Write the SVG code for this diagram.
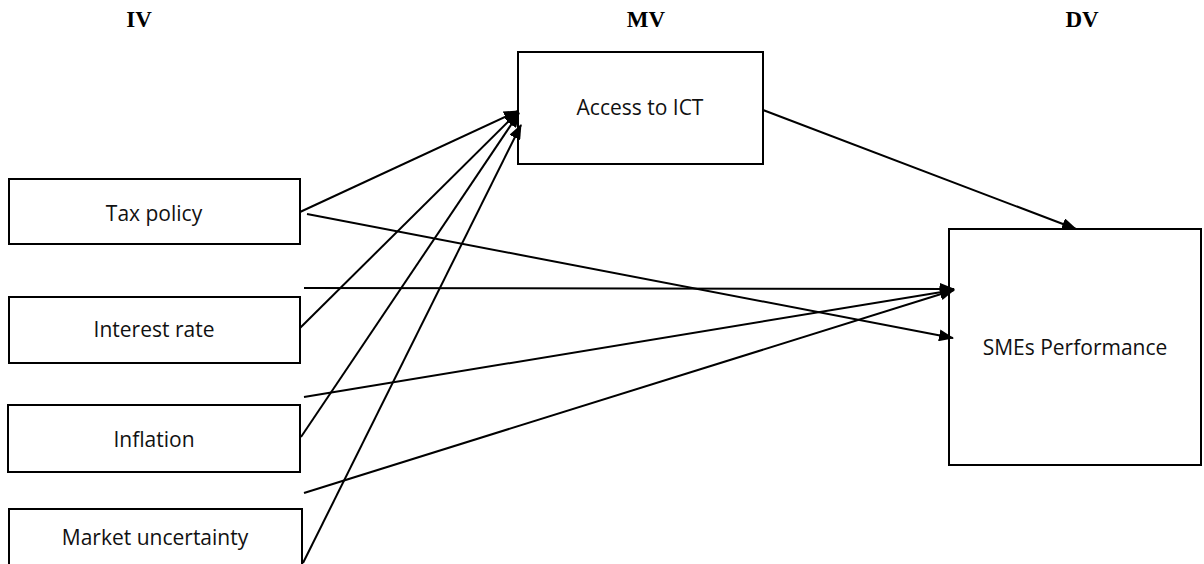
<svg xmlns="http://www.w3.org/2000/svg" width="1204" height="564" viewBox="0 0 1204 564">
<defs>
<style>
.box{fill:#fff;stroke:#000;stroke-width:2}
.lbl{font-family:"Open Sans","Liberation Sans",sans-serif;font-size:21px;fill:#111;text-anchor:middle}
.hdr{font-family:"Liberation Serif","Times New Roman",serif;font-size:23px;font-weight:bold;fill:#000;text-anchor:middle}
.ln{stroke:#000;stroke-width:2;fill:none;marker-end:url(#ah)}
.ln0{stroke:#000;stroke-width:2;fill:none}
</style>
<marker id="ah" markerUnits="userSpaceOnUse" markerWidth="15" markerHeight="12" viewBox="0 0 15 12" refX="14" refY="6" orient="auto">
<path d="M0,0 L15,6 L0,12 z" fill="#000"/>
</marker>
</defs>
<rect width="1204" height="564" fill="#fff"/>
<g id="headers">
<text class="hdr" x="139" y="27">IV</text>
<text class="hdr" x="646" y="27">MV</text>
<text class="hdr" x="1082" y="27">DV</text>
</g>
<g id="tax">
<rect class="box" x="9" y="179" width="291" height="65"/>
<text class="lbl" x="154" y="221">Tax policy</text>
</g>
<g id="interest">
<rect class="box" x="9" y="297" width="291" height="66"/>
<text class="lbl" x="154" y="337">Interest rate</text>
</g>
<g id="inflation">
<rect class="box" x="8" y="405" width="292" height="67"/>
<text class="lbl" x="154" y="447">Inflation</text>
</g>
<g id="market">
<rect class="box" x="9" y="509" width="293" height="70"/>
<text class="lbl" x="155" y="545">Market uncertainty</text>
</g>
<g id="access">
<rect class="box" x="518" y="52" width="245" height="112"/>
<text class="lbl" x="640" y="115">Access to ICT</text>
</g>
<g id="smes">
<rect class="box" x="949" y="229" width="252" height="236"/>
<text class="lbl" x="1075" y="355">SMEs Performance</text>
</g>
<g id="connectors">
<line class="ln" x1="300" y1="212" x2="518" y2="111"/>
<line class="ln" x1="300" y1="328" x2="518" y2="112"/>
<line class="ln" x1="301" y1="437" x2="519" y2="113"/>
<line class="ln" x1="303" y1="563" x2="521" y2="125"/>
<line class="ln" x1="307" y1="214" x2="953" y2="338"/>
<line class="ln" x1="304" y1="288" x2="954" y2="289"/>
<line class="ln" x1="304" y1="397" x2="954" y2="290"/>
<line class="ln" x1="304" y1="493" x2="954" y2="290"/>
<line class="ln" x1="763" y1="110" x2="1076" y2="229"/>
</g>
</svg>
